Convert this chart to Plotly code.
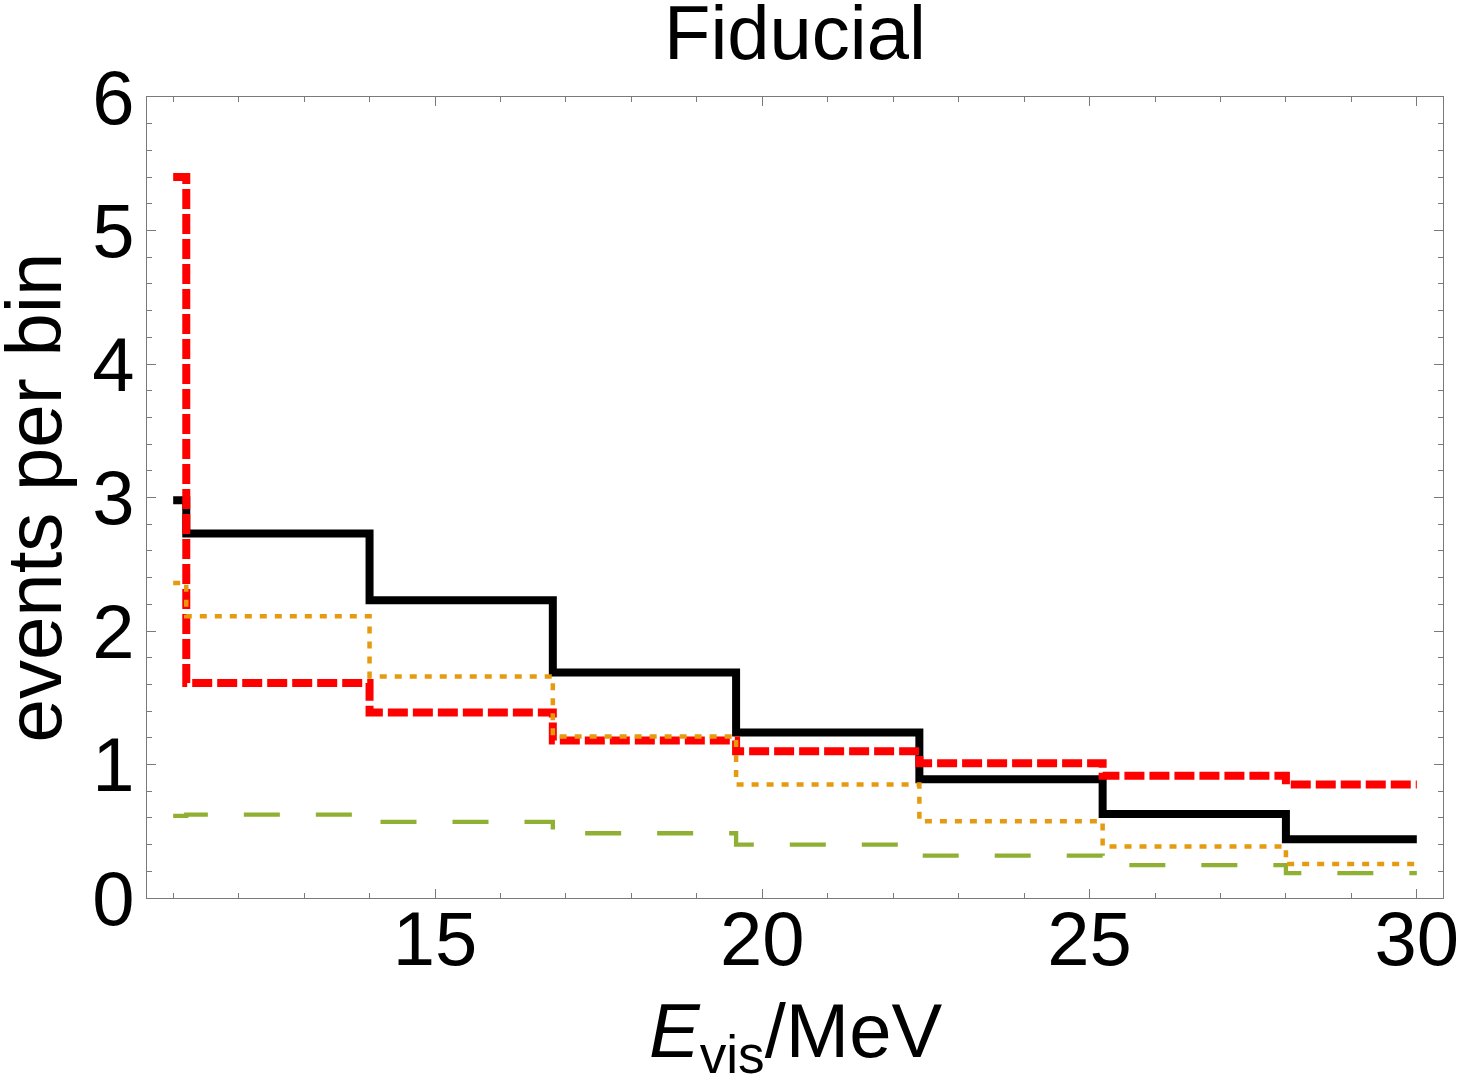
import plotly.graph_objects as go

# Bin edges (MeV) and per-bin event counts
edges = [11.0, 11.2, 14.0, 16.8, 19.6, 22.4, 25.2, 28.0, 30.0]
black_vals = [2.98, 2.73, 2.23, 1.69, 1.24, 0.89, 0.63, 0.44]
red_vals = [5.40, 1.61, 1.39, 1.18, 1.10, 1.01, 0.915, 0.85]
orange_vals = [2.36, 2.11, 1.66, 1.21, 0.85, 0.575, 0.385, 0.255]
green_vals = [0.615, 0.625, 0.57, 0.485, 0.40, 0.317, 0.247, 0.187]

x_ticks = [15, 20, 25, 30]
y_ticks = [0, 1, 2, 3, 4, 5, 6]

FONT = "Liberation Sans, Arial, Helvetica, sans-serif"
FS = 76
FRAME = "#7a7a7a"


def step(vals):
    return vals + [vals[-1]]


fig = go.Figure()
series = [
    (black_vals, dict(color="black", width=8, dash="solid")),
    (green_vals, dict(color="#8FB032", width=4.3, dash="36px,36px")),
    (red_vals, dict(color="#FF0000", width=8, dash="20px,5px")),
    (orange_vals, dict(color="#E69A10", width=4.5, dash="7px,8px")),
]
for vals, line in series:
    fig.add_trace(go.Scatter(x=edges, y=step(vals), mode="lines",
                             line_shape="hv", line=line, showlegend=False,
                             hoverinfo="skip"))

axis_common = dict(
    showline=True, linecolor=FRAME, linewidth=1.3, mirror="ticks",
    ticks="inside", tickcolor=FRAME, tickwidth=1.3, ticklen=9,
    showgrid=False, zeroline=False, automargin=False,
    tickfont=dict(family=FONT, size=FS, color="black"),
)

fig.update_layout(
    width=1463, height=1086,
    margin=dict(l=147, r=20, t=97, b=188, autoexpand=False),
    paper_bgcolor="white", plot_bgcolor="white",
    font=dict(family=FONT, color="black"),
    xaxis=dict(range=[10.6, 30.4], tickvals=x_ticks,
               ticktext=[str(v) for v in x_ticks],
               minor=dict(dtick=1, tick0=0, ticks="inside", ticklen=5,
                          tickcolor=FRAME, tickwidth=1.3),
               ticklabelstandoff=-25,
               **axis_common),
    yaxis=dict(range=[0, 6], tickvals=y_ticks,
               ticktext=[str(v) for v in y_ticks],
               minor=dict(dtick=0.2, tick0=0, ticks="inside", ticklen=5,
                          tickcolor=FRAME, tickwidth=1.3),
               ticklabelstandoff=-4,
               **axis_common),
)

fig.add_annotation(text="Fiducial", xref="paper", yref="paper",
                   x=0.5, y=1, yanchor="bottom", yshift=20, showarrow=False,
                   font=dict(family=FONT, size=FS, color="black"))
fig.add_annotation(text="<i>E</i><sub>vis</sub>/MeV", xref="paper", yref="paper",
                   x=0.5, y=0, yanchor="top", yshift=-88, showarrow=False,
                   font=dict(family=FONT, size=FS, color="black"))
fig.add_annotation(text="events per bin", xref="paper", yref="paper",
                   x=0, y=0.5, xanchor="center", xshift=-114, textangle=-90,
                   showarrow=False,
                   font=dict(family=FONT, size=78, color="black"))

fig.write_html("out.html")
